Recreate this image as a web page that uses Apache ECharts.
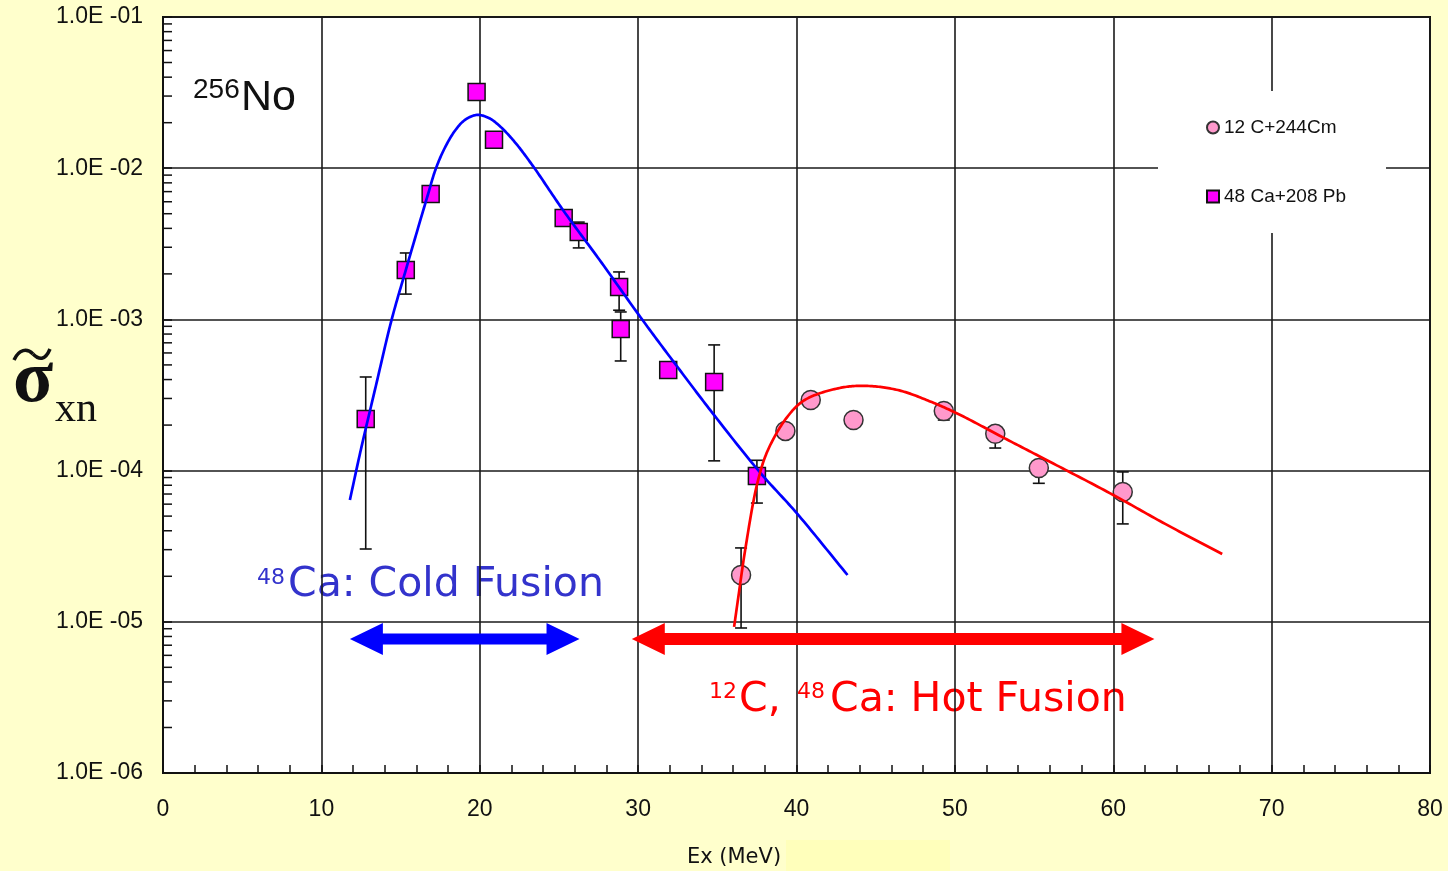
<!DOCTYPE html>
<html><head><meta charset="utf-8">
<script src="https://cdn.jsdelivr.net/npm/echarts@6/dist/echarts.min.js"></script>
<style>html,body{margin:0;padding:0;background:#FFFFCC;} #c{width:1448px;height:871px;}</style>
</head><body><div id="c"></div>
<script>
// ---- data ----
const coldName = '48 Ca+208 Pb';
const coldEx    = [12.8, 15.33, 16.9, 19.8, 20.9, 25.3, 26.25, 28.8, 28.9, 31.9, 34.8, 37.5];
const coldSigma = [2.19e-4, 2.12e-3, 6.75e-3, 3.19e-2, 1.54e-2, 4.69e-3, 3.79e-3, 1.64e-3, 8.65e-4, 4.62e-4, 3.86e-4, 9.2e-5];
const coldErrLow  = [3.03e-5, 1.47e-3, null, null, null, null, 2.97e-3, 1.15e-3, 5.31e-4, null, 1.16e-4, 6.1e-5];
const coldErrHigh = [4.16e-4, 2.75e-3, null, null, null, null, 4.4e-3, 2.06e-3, 1.12e-3, null, 6.78e-4, 1.17e-4];

const hotName = '12 C+244Cm';
const hotEx    = [36.5, 39.3, 40.9, 43.6, 49.3, 52.55, 55.3, 60.6];
const hotSigma = [2.04e-5, 1.83e-4, 2.93e-4, 2.16e-4, 2.48e-4, 1.75e-4, 1.04e-4, 7.22e-5];
const hotErrLow  = [9.1e-6, null, null, null, 2.16e-4, 1.41e-4, 8.24e-5, 4.44e-5];
const hotErrHigh = [3.08e-5, null, null, null, 2.65e-4, 1.9e-4, 1.12e-4, 9.8e-5];

const coldFitEx    = [11.8, 12.49, 13.44, 14.43, 15.33, 16.72, 17.22, 17.79, 18.42, 19.05, 19.81, 20.57, 21.26, 22.21, 23.34, 25.3, 27.57, 30.28, 32.49, 34.7, 37.67, 40.0, 43.22];
const coldFitSigma = [6.39e-5, 1.37e-4, 3.63e-4, 9.9e-4, 2.12e-3, 6.65e-3, 9.88e-3, 1.36e-2, 1.76e-2, 2.08e-2, 2.25e-2, 2.15e-2, 1.9e-2, 1.49e-2, 1.04e-2, 5.21e-3, 2.47e-3, 9.9e-4, 4.84e-4, 2.4e-4, 9.8e-5, 5.25e-5, 2.04e-5];

const hotFitEx    = [36.06, 36.32, 36.76, 37.53, 38.2, 39.41, 40.52, 42.73, 44.48, 46.5, 48.39, 50.28, 53.12, 56.03, 60.0, 63.28, 66.88];
const hotFitSigma = [9.25e-6, 1.44e-5, 2.99e-5, 8.28e-5, 1.37e-4, 2.26e-4, 2.93e-4, 3.52e-4, 3.63e-4, 3.39e-4, 2.88e-4, 2.35e-4, 1.64e-4, 1.14e-4, 6.9e-5, 4.44e-5, 2.81e-5];

// energy ranges of the two arrows: [from, to, level]
const coldRange = [11.8, 26.3, 7.7e-6];
const hotRange  = [29.6, 62.6, 7.7e-6];

const yTickLabels = {'-1':'1.0E -01','-2':'1.0E -02','-3':'1.0E -03','-4':'1.0E -04','-5':'1.0E -05','-6':'1.0E -06'};
const yMinorMantissas = [2,3,4,5,6,7,8,9];
const yDecades = [-6,-5,-4,-3,-2];

// ---- build ----
const zip = (a,b) => a.map((v,i)=>[v,b[i]]);
const errData = (xs, lo, hi) => xs.map((x,i)=>[x, lo[i], hi[i]]).filter(d=>d[1]!=null);
const minorTicks = [];
yDecades.forEach(k => yMinorMantissas.forEach(m => minorTicks.push([0, m*Math.pow(10,k)])));

function errRender(params, api){
  const x = api.value(0), lo = api.value(1), hi = api.value(2);
  const a = api.coord([x, lo]), b = api.coord([x, hi]);
  const w = 6, st = {stroke:'#111', lineWidth:1.6};
  return {type:'group', children:[
    {type:'line', shape:{x1:a[0],y1:a[1],x2:b[0],y2:b[1]}, style:st},
    {type:'line', shape:{x1:a[0]-w,y1:a[1],x2:a[0]+w,y2:a[1]}, style:st},
    {type:'line', shape:{x1:b[0]-w,y1:b[1],x2:b[0]+w,y2:b[1]}, style:st}
  ]};
}
function arrowRender(color, sw){
  return function(params, api){
    const p1 = api.coord([api.value(0), api.value(2)]);
    const p2 = api.coord([api.value(1), api.value(2)]);
    const y = p1[1], hl = 33, hh = 16;
    const pts = [[p1[0],y],[p1[0]+hl,y-hh],[p1[0]+hl,y-sw],[p2[0]-hl,y-sw],[p2[0]-hl,y-hh],[p2[0],y],
                 [p2[0]-hl,y+hh],[p2[0]-hl,y+sw],[p1[0]+hl,y+sw],[p1[0]+hl,y+hh]];
    return {type:'polygon', shape:{points:pts}, style:{fill:color}};
  };
}
function minorRender(params, api){
  const p = api.coord([api.value(0), api.value(1)]);
  return {type:'line', shape:{x1:p[0],y1:p[1],x2:p[0]+9,y2:p[1]}, style:{stroke:'#111', lineWidth:1.5}};
}
// centripetal Catmull-Rom through the fit samples, in screen space
function curveRender(xs, ys, color){
  return function(params, api){
    const P = xs.map((x,i)=>api.coord([x, ys[i]]));
    const n = P.length;
    const ext = [[2*P[0][0]-P[1][0], 2*P[0][1]-P[1][1]], ...P, [2*P[n-1][0]-P[n-2][0], 2*P[n-1][1]-P[n-2][1]]];
    const d = (a,b)=>Math.pow(Math.hypot(b[0]-a[0], b[1]-a[1]), 0.5) || 1e-6;
    const lerp = (a,b,ta,tb,t)=>[ (tb-t)/(tb-ta)*a[0] + (t-ta)/(tb-ta)*b[0], (tb-t)/(tb-ta)*a[1] + (t-ta)/(tb-ta)*b[1] ];
    const pts = [P[0]];
    for (let i=1;i<ext.length-2;i++){
      const p0=ext[i-1], p1=ext[i], p2=ext[i+1], p3=ext[i+2];
      const t0=0, t1=t0+d(p0,p1), t2=t1+d(p1,p2), t3=t2+d(p2,p3);
      const steps=20;
      for (let s=1;s<=steps;s++){
        const t = t1 + (t2-t1)*s/steps;
        const A1=lerp(p0,p1,t0,t1,t), A2=lerp(p1,p2,t1,t2,t), A3=lerp(p2,p3,t2,t3,t);
        const B1=lerp(A1,A2,t0,t2,t), B2=lerp(A2,A3,t1,t3,t);
        pts.push(lerp(B1,B2,t1,t2,t));
      }
    }
    return {type:'polyline', shape:{points:pts}, style:{stroke:color, lineWidth:2.7, fill:null, lineJoin:'round'}};
  };
}

const chart = echarts.init(document.getElementById('c'), null, {renderer:'canvas'});
const SANS = '"Liberation Sans", Arial, sans-serif';
const DEJ = '"DejaVu Sans", sans-serif';
const SERIF = '"Liberation Serif", "Times New Roman", serif';

chart.setOption({
  backgroundColor:'#FFFFCC',
  animation:false,
  grid:{left:163, right:18, top:17, bottom:98, show:true, backgroundColor:'#fff', borderColor:'#111', borderWidth:2},
  xAxis:{type:'value', min:0, max:80, interval:10,
    axisLine:{show:true, lineStyle:{color:'#111', width:2}},
    axisTick:{show:true, inside:true, length:8, lineStyle:{color:'#111', width:1.5}},
    minorTick:{show:true, splitNumber:5, length:8, lineStyle:{color:'#111', width:1.5}},
    splitLine:{show:true, lineStyle:{color:'#1a1a1a', width:1.6}},
    axisLabel:{fontFamily:SANS, fontSize:23, color:'#111', margin:25}
  },
  yAxis:{type:'log', logBase:10, min:1e-6, max:1e-1,
    axisLine:{show:true, lineStyle:{color:'#111', width:2}},
    axisTick:{show:true, inside:true, length:9, lineStyle:{color:'#111', width:1.5}},
    splitLine:{show:true, lineStyle:{color:'#1a1a1a', width:1.6}},
    axisLabel:{fontFamily:SANS, fontSize:23, color:'#111', margin:20,
      formatter:v => yTickLabels[String(Math.round(Math.log10(v)))] || ''}
  },
  legend:{show:true, orient:'vertical', left:1158, top:91, padding:[27,40,27,48], itemGap:50,
    backgroundColor:'#fff', itemWidth:12, itemHeight:12, selectedMode:false,
    textStyle:{fontFamily:SANS, fontSize:19, color:'#111'},
    data:[{name:hotName, icon:'circle'},{name:coldName, icon:'rect'}]
  },
  series:[
    {type:'custom', name:'ytick', renderItem:minorRender, data:minorTicks, clip:false, silent:true, z:5, encode:{x:0,y:1}},
    {type:'custom', name:'errCold', renderItem:errRender, data:errData(coldEx,coldErrLow,coldErrHigh), encode:{x:0,y:[1,2]}, z:2, silent:true},
    {type:'custom', name:'errHot', renderItem:errRender, data:errData(hotEx,hotErrLow,hotErrHigh), encode:{x:0,y:[1,2]}, z:2, silent:true},
    {type:'scatter', name:hotName, data:zip(hotEx,hotSigma), symbol:'circle', symbolSize:19,
      itemStyle:{color:'#FF99CC', borderColor:'#333', borderWidth:1.5, opacity:1}, z:3},
    {type:'scatter', name:coldName, data:zip(coldEx,coldSigma), symbol:'rect', symbolSize:17,
      itemStyle:{color:'#FF00FF', borderColor:'#111', borderWidth:1.5, opacity:1}, z:3},
    {type:'custom', name:'coldFit', renderItem:curveRender(coldFitEx,coldFitSigma,'#0000FF'), data:[[coldFitEx[0],coldFitSigma[0]]], encode:{x:0,y:1}, z:4, silent:true, clip:false},
    {type:'custom', name:'hotFit', renderItem:curveRender(hotFitEx,hotFitSigma,'#FF0000'), data:[[hotFitEx[0],hotFitSigma[0]]], encode:{x:0,y:1}, z:4, silent:true, clip:false},
    {type:'custom', name:'coldArrow', renderItem:arrowRender('#0000FF',5.5), data:[coldRange], encode:{x:[0,1],y:2}, z:6, silent:true},
    {type:'custom', name:'hotArrow', renderItem:arrowRender('#FF0000',6), data:[hotRange], encode:{x:[0,1],y:2}, z:6, silent:true}
  ],
  graphic:[
    {type:'rect', shape:{x:786,y:840,width:164,height:31}, style:{fill:'#FFFFBB'}, silent:true, z:-10},
    {type:'text', x:193, y:90, style:{text:'256', fontFamily:SANS, fontSize:28, fill:'#111', textAlign:'left', textVerticalAlign:'middle'}},
    {type:'text', x:241, y:98, style:{text:'No', fontFamily:SANS, fontSize:43, fill:'#111', textAlign:'left', textVerticalAlign:'middle'}},
    {type:'text', x:257, y:578, style:{text:'48', fontFamily:DEJ, fontSize:22, fill:'#3333CC', textAlign:'left', textVerticalAlign:'middle'}},
    {type:'text', x:288, y:585, style:{text:'Ca: Cold Fusion', fontFamily:DEJ, fontSize:41, fill:'#3333CC', textAlign:'left', textVerticalAlign:'middle'}},
    {type:'text', x:709, y:692, style:{text:'12', fontFamily:DEJ, fontSize:22, fill:'#FF0000', textAlign:'left', textVerticalAlign:'middle'}},
    {type:'text', x:739, y:700, style:{text:'C,', fontFamily:DEJ, fontSize:41, fill:'#FF0000', textAlign:'left', textVerticalAlign:'middle'}},
    {type:'text', x:797, y:692, style:{text:'48', fontFamily:DEJ, fontSize:22, fill:'#FF0000', textAlign:'left', textVerticalAlign:'middle'}},
    {type:'text', x:830, y:700, style:{text:'Ca: Hot Fusion', fontFamily:DEJ, fontSize:41, fill:'#FF0000', textAlign:'left', textVerticalAlign:'middle'}},
    {type:'text', x:13, y:382, style:{text:'σ', fontFamily:SERIF, fontSize:74, fontWeight:'bold', fill:'#111', textAlign:'left', textVerticalAlign:'middle'}},
    {type:'text', x:55, y:410, style:{text:'xn', fontFamily:SERIF, fontSize:42, fill:'#111', textAlign:'left', textVerticalAlign:'middle'}},
    {type:'bezierCurve', shape:{x1:14,y1:360,cpx1:19,cpy1:349,cpx2:27,cpy2:348,x2:33,y2:354}, style:{fill:null, stroke:'#111', lineWidth:3.5}},
    {type:'bezierCurve', shape:{x1:33,y1:354,cpx1:39,cpy1:360,cpx2:45,cpy2:361,x2:50,y2:349}, style:{fill:null, stroke:'#111', lineWidth:3.5}},
    {type:'text', x:734, y:858, style:{text:'Ex (MeV)', fontFamily:DEJ, fontSize:21, fill:'#111', textAlign:'center', textVerticalAlign:'middle'}}
  ]
});
</script></body></html>
